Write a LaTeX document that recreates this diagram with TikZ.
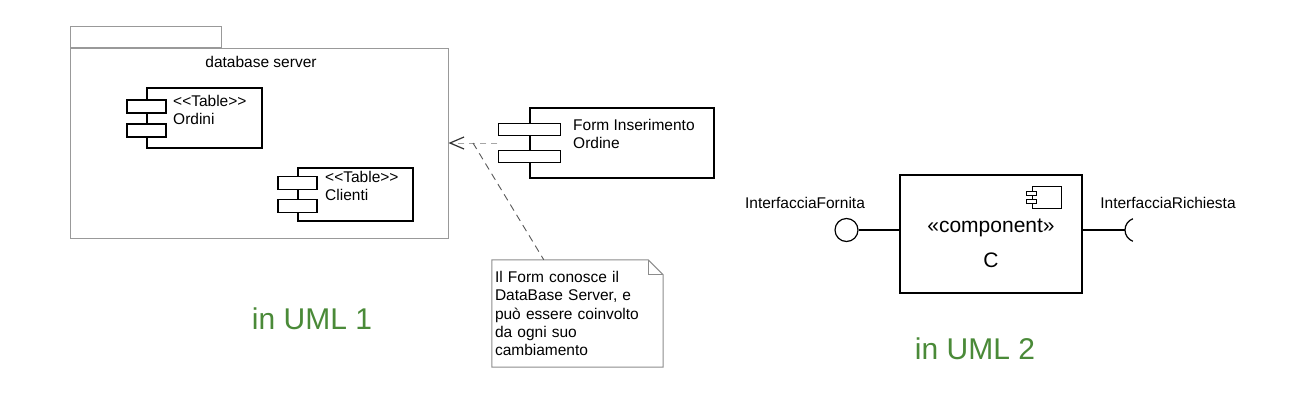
\documentclass[tikz,border=0pt]{standalone}
\usepackage{fontspec}
\setmainfont{Liberation Sans}
\usetikzlibrary{calc,positioning,arrows.meta}
\definecolor{umlgreen}{RGB}{74,138,56}

\begin{document}
\begin{tikzpicture}[x=1pt, y=-1pt, inner sep=0pt,
  comp/.style = {draw, line width=1.3pt},
  ctab/.style = {draw, line width=1.3pt, fill=white, minimum width=39pt, minimum height=13pt},
  txt/.style = {font=\fontsize{15.5}{18}\selectfont, align=left},
  big/.style = {font=\fontsize{30}{36}\selectfont, text=umlgreen},
  pkgline/.style = {draw=black!40, line width=1pt}]
\useasboundingbox[fill=white] (0,0) rectangle (1292,410);

% package with the two tables
\node[pkgline, minimum width=378pt, minimum height=190pt] (pkg) at (259,143) {};
\node[pkgline, minimum width=151pt, minimum height=21pt, anchor=south west] (pkgtab) at (pkg.north west) {};
\node[txt] (pkglabel) at (261,62) {database server};

\node[comp, minimum width=115pt, minimum height=60pt] (ordini) at (204.5,118) {};
\node[ctab] (otab1) at ($(ordini.west)+(0,-11.5)$) {};
\node[ctab] (otab2) at ($(ordini.west)+(0,12.5)$) {};
\node[txt, anchor=north west] (olabel) at (173,95) {<\kern0pt<Table>\kern0pt>\\Ordini};

\node[comp, minimum width=115pt, minimum height=53pt] (clienti) at (355.5,194.5) {};
\node[ctab] (ctab1) at ($(clienti.west)+(0,-11.5)$) {};
\node[ctab] (ctab2) at ($(clienti.west)+(0,11.5)$) {};
\node[txt, anchor=north west] (clabel) at (325,171.5) {<\kern0pt<Table>\kern0pt>\\Clienti};

% form component
\node[comp, minimum width=184pt, minimum height=70pt] (form) at (622,143) {};
\node[ctab, minimum width=62pt, minimum height=12pt] (ftab1) at ($(form.west)+(0,-13.5)$) {};
\node[ctab, minimum width=62pt, minimum height=12pt] (ftab2) at ($(form.west)+(0,13.5)$) {};
\node[txt, anchor=north west] (flabel) at (573,119.5) {Form Inserimento\\Ordine};

\draw[black!35, line width=1pt, dash pattern=on 6pt off 5pt, shorten <=32pt,
  -{Straight Barb[length=14pt, width=12pt, color=black!80, line width=1.2pt]}]
  (form.west) -- (form.west -| pkg.east);
\coordinate (depfork) at (473,143);

% note
\node[font=\fontsize{15.5}{18.3}\selectfont, align=left, text width=165pt,
  minimum width=171pt, minimum height=107pt] (note) at (577.5,313.5)
  {Il Form conosce il\\DataBase Server, e\\può essere coinvolto\\da ogni suo\\cambiamento};
\draw[black!45, line width=1pt] (note.north west) -- ($(note.north east)+(-15,0)$)
  -- ($(note.north east)+(0,15)$) -- (note.south east) -- (note.south west) -- cycle;
\draw[black!45, line width=1pt] ($(note.north east)+(-15,0)$) -- ($(note.north east)+(-15,15)$)
  -- ($(note.north east)+(0,15)$);
\draw[black!65, line width=0.9pt, dash pattern=on 7pt off 5pt] (depfork) -- ($(note.north west)+(52,0)$);

\node[big] (uml1) at (312,319) {in UML 1};

% UML 2 component
\node[comp, minimum width=182pt, minimum height=118pt] (cmp) at (991,234) {};
\node[draw, line width=1pt, minimum width=29pt, minimum height=22pt] (icon) at (1046.5,197) {};
\node[draw, line width=1pt, fill=white, minimum width=10pt, minimum height=4pt] (itab1) at ($(icon.west)+(0,-4)$) {};
\node[draw, line width=1pt, fill=white, minimum width=10pt, minimum height=4pt] (itab2) at ($(icon.west)+(0,4)$) {};
\node[font=\fontsize{21}{25}\selectfont] (cstereo) at (991,228) {«component»};
\node[font=\fontsize{21}{25}\selectfont] (cname) at (991,260) {C};

\node[circle, draw, line width=1.2pt, minimum size=23pt] (prov) at (846.5,230) {};
\draw[line width=1.2pt] (prov.east) -- (prov.east -| cmp.west);
\coordinate (req) at (1125,230);
\draw[line width=1.2pt] (req -| cmp.east) -- (req);
\draw[line width=1.2pt] (req) arc[start angle=180, end angle=110, radius=12];
\draw[line width=1.2pt] (req) arc[start angle=180, end angle=250, radius=12];
\node[txt] (provlabel) at (805,203) {InterfacciaFornita};
\node[txt] (reqlabel) at (1168,203) {InterfacciaRichiesta};

\node[big] (uml2) at (975,349) {in UML 2};
\end{tikzpicture}
\end{document}
